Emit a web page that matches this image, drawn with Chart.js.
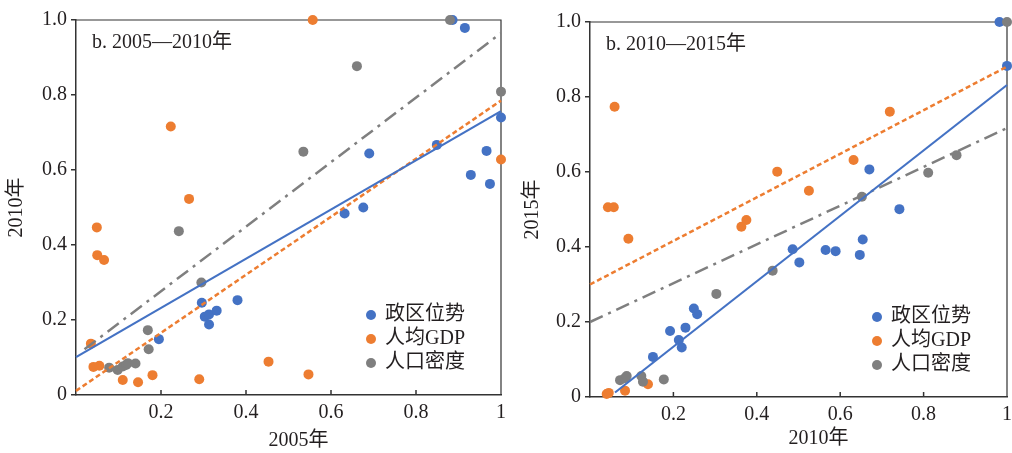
<!DOCTYPE html>
<html>
<head>
<meta charset="utf-8">
<script src="https://cdn.jsdelivr.net/npm/chart.js@4.4.1/dist/chart.umd.min.js"></script>
<style>
  html, body { margin: 0; padding: 0; background: #fff; }
  #wrap { position: relative; width: 1012px; height: 453px; overflow: hidden; }
  canvas { position: absolute; top: 0; }
  #c1 { left: 0; }
  #c2 { left: 510px; }
</style>
</head>
<body>
<div id="wrap">
  <canvas id="c1" width="510" height="453"></canvas>
  <canvas id="c2" width="502" height="453"></canvas>
</div>
<script>
// ---- data ----
const seriesNames  = ['政区位势', '人均GDP', '人口密度'];
const seriesColors = ['#4472C4', '#ED7D31', '#7F7F7F'];
const yTickLabels  = ['0', '0.2', '0.4', '0.6', '0.8', '1.0'];
const xTickLabels  = ['', '0.2', '0.4', '0.6', '0.8', '1'];

// 2005 -> 2010
const zq0510 = [[0.195,0.149],[0.296,0.246],[0.303,0.209],[0.313,0.215],[0.313,0.188],[0.331,0.225],
  [0.380,0.253],[0.632,0.484],[0.676,0.500],[0.690,0.644],[0.849,0.667],[0.886,1.0],[0.915,0.979],
  [0.929,0.587],[0.966,0.651],[0.974,0.563],[1.0,0.740]];
const gdp0510 = [[0.035,0.137],[0.041,0.075],[0.055,0.078],[0.049,0.447],[0.050,0.373],[0.066,0.360],
  [0.110,0.040],[0.146,0.034],[0.180,0.053],[0.223,0.716],[0.266,0.523],[0.290,0.042],[0.453,0.089],
  [0.547,0.055],[0.557,1.0],[1.0,0.628]];
const rk0510 = [[0.078,0.073],[0.098,0.067],[0.110,0.076],[0.118,0.080],[0.122,0.085],[0.140,0.084],
  [0.169,0.173],[0.171,0.122],[0.242,0.437],[0.295,0.300],[0.535,0.649],[0.661,0.877],[0.880,1.0],[1.0,0.809]];
const fitZq0510  = [[0, 0.101], [1, 0.757]];
const fitGdp0510 = [[0, 0.011], [1, 0.785]];
const fitRk0510  = [[0.02, 0.122], [1, 0.965]];

// 2010 -> 2015
const zq1015 = [[0.151,0.107],[0.192,0.176],[0.213,0.152],[0.220,0.132],[0.229,0.185],[0.249,0.236],
  [0.257,0.221],[0.486,0.394],[0.502,0.359],[0.565,0.392],[0.589,0.389],[0.647,0.379],[0.654,0.420],
  [0.670,0.607],[0.742,0.501],[0.982,1.0],[1.0,0.883]];
const gdp1015 = [[0.040,0.008],[0.045,0.011],[0.084,0.017],[0.139,0.034],[0.043,0.506],[0.057,0.506],
  [0.059,0.774],[0.092,0.422],[0.363,0.454],[0.375,0.472],[0.449,0.601],[0.525,0.550],[0.632,0.632],[0.719,0.761]];
const rk1015 = [[0.072,0.045],[0.083,0.050],[0.088,0.056],[0.123,0.056],[0.127,0.041],[0.177,0.047],
  [0.303,0.275],[0.438,0.337],[0.652,0.534],[0.811,0.598],[0.879,0.645],[1.0,1.0]];
const fitZq1015  = [[0.06, 0.012], [1, 0.832]];
const fitGdp1015 = [[0, 0.300], [1, 0.881]];
const fitRk1015  = [[0, 0.200], [1, 0.717]];

// ---- helpers ----
const FONT = "'Liberation Serif', 'Times New Roman', 'Noto Sans CJK SC', serif";
const INK = '#231f20';
Chart.defaults.font.family = FONT;
Chart.defaults.font.size = 20;
Chart.defaults.color = INK;

const pts = (arr) => arr.map(([x, y]) => ({ x, y }));

const panelDecor = {
  id: 'panelDecor',
  beforeDatasetsDraw(chart) {
    const { ctx, chartArea: a, scales: { x } } = chart;
    ctx.save();
    ctx.strokeStyle = '#333';
    ctx.lineWidth = 1.2;
    ctx.beginPath();
    ctx.moveTo(a.left, a.top);
    ctx.lineTo(a.right, a.top);
    ctx.lineTo(a.right, a.bottom);
    ctx.stroke();
    // ticks point into the plot on the x axis
    ctx.lineWidth = 1.5;
    ctx.beginPath();
    x.ticks.forEach(t => {
      if (t.value <= 0 || t.value >= 1) return;
      const px = x.getPixelForValue(t.value);
      ctx.moveTo(px, a.bottom);
      ctx.lineTo(px, a.bottom - 5);
    });
    ctx.stroke();
    ctx.restore();
  },
  afterDraw(chart, args, o) {
    const { ctx, chartArea: a, height } = chart;
    ctx.save();
    ctx.font = `20px ${FONT}`;
    ctx.fillStyle = INK;
    ctx.textBaseline = 'middle';
    ctx.textAlign = 'left';
    ctx.fillText(o.title, a.left + 16, a.top + 23);
    seriesNames.forEach((name, i) => {
      const mx = a.right - 130, my = a.bottom - 80 + i * 24;
      ctx.fillStyle = seriesColors[i];
      ctx.beginPath();
      ctx.arc(mx, my, 5, 0, Math.PI * 2);
      ctx.fill();
      ctx.fillStyle = INK;
      ctx.fillText(name, mx + 14, my);
    });
    // x axis title, sits a little right of the plot centre in the original
    ctx.textAlign = 'center';
    ctx.fillText(o.xTitle, (a.left + a.right) / 2 + o.xTitleDx, height - o.xTitleUp);
    ctx.restore();
  }
};

function makePanel(id, cfg) {
  const scatter = (data, i) => ({
    type: 'scatter', label: seriesNames[i], data: pts(data),
    backgroundColor: seriesColors[i], borderWidth: 0,
    pointRadius: 5, pointHoverRadius: 5, clip: false
  });
  const fit = (data, i, dash, w) => ({
    type: 'line', data: pts(data), borderColor: seriesColors[i], borderWidth: w,
    borderDash: dash, pointRadius: 0, fill: false, tension: 0, clip: false
  });

  return new Chart(document.getElementById(id), {
    data: {
      datasets: [
        fit(cfg.fits[0], 0, [], 2.2),
        fit(cfg.fits[1], 1, [5, 3], 2.5),
        fit(cfg.fits[2], 2, [14, 6, 3, 6], 2.5),
        scatter(cfg.series[2], 2),
        scatter(cfg.series[1], 1),
        scatter(cfg.series[0], 0)
      ]
    },
    options: {
      responsive: false,
      devicePixelRatio: 1,
      animation: false,
      layout: { padding: cfg.padding },
      plugins: {
        legend: { display: false },
        tooltip: { enabled: false },
        panelDecor: { title: cfg.title, xTitle: cfg.xTitle, xTitleDx: cfg.xTitleDx, xTitleUp: cfg.xTitleUp }
      },
      scales: {
        x: {
          type: 'linear', min: 0, max: 1,
          ticks: { stepSize: 0.2, autoSkip: false, maxRotation: 0, padding: 6,
                   callback: (v, i) => xTickLabels[i] },
          grid: { display: true, drawOnChartArea: false, drawTicks: false },
          border: { display: true, color: '#333', width: 1.5 },
          title: { display: false },
          afterFit: (s) => { s.height = cfg.xHeight; s.paddingLeft = 0; s.paddingRight = 0; }
        },
        y: {
          type: 'linear', min: 0, max: 1,
          ticks: { stepSize: 0.2, padding: 4, callback: (v, i) => yTickLabels[i] },
          grid: { display: true, drawOnChartArea: false, drawTicks: true, tickLength: 5,
                  color: '#333', lineWidth: 1.5 },
          border: { display: true, color: '#333', width: 1.5 },
          title: { display: true, text: cfg.yTitle, padding: { top: cfg.yTitlePad, bottom: 0 } },
          afterFit: (s) => { s.width = cfg.yWidth; s.paddingTop = 0; s.paddingBottom = 0; }
        }
      }
    },
    plugins: [panelDecor]
  });
}

makePanel('c1', {
  title: 'b. 2005—2010年', xTitle: '2005年', yTitle: '2010年',
  series: [zq0510, gdp0510, rk0510],
  fits: [fitZq0510, fitGdp0510, fitRk0510],
  padding: { top: 20, right: 9, left: 0, bottom: 0 },
  xHeight: 58, yWidth: 76, xTitleDx: 10, xTitleUp: 12, yTitlePad: 5
});

makePanel('c2', {
  title: 'b. 2010—2015年', xTitle: '2010年', yTitle: '2015年',
  series: [zq1015, gdp1015, rk1015],
  fits: [fitZq1015, fitGdp1015, fitRk1015],
  padding: { top: 22, right: 1, left: 0, bottom: 0 },
  xHeight: 56, yWidth: 80, xTitleDx: 20, xTitleUp: 14, yTitlePad: 11
});
</script>
</body>
</html>
